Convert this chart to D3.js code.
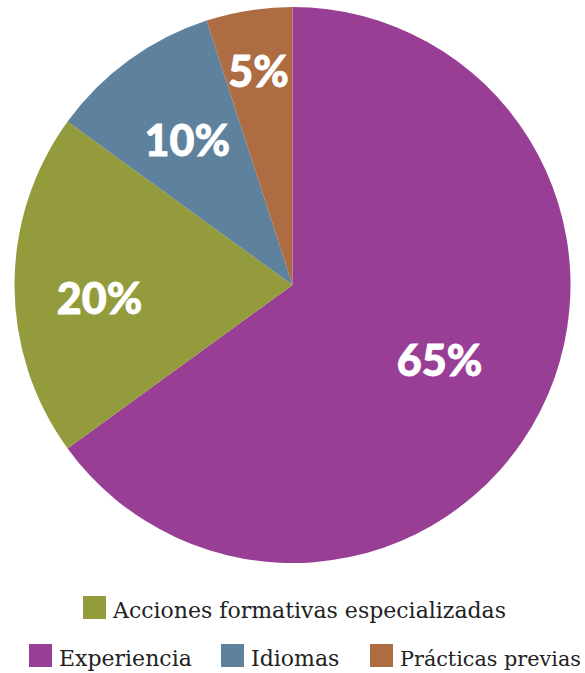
<!DOCTYPE html>
<html>
<head>
<meta charset="utf-8">
<script src="https://cdn.jsdelivr.net/npm/d3@7"></script>
<style>
  body { margin: 0; background: #fff; }
</style>
</head>
<body>
<svg id="chart" width="585" height="673"></svg>
<script>
// slice order, clockwise from 12 o'clock
var categories = ["Experiencia", "Acciones formativas especializadas", "Idiomas", "Prácticas previas"];
var values = [65, 20, 10, 5];
var colors = ["#983f95", "#949b3d", "#5e819e", "#ad6c42"];

// legend rows (index into categories)
var legendRows = [[1], [0, 2, 3]];

var svg = d3.select("#chart"),
    cx = 292.5,
    cy = 285,
    radius = 278;

var g = svg.append("g")
    .attr("transform", "translate(" + cx + "," + cy + ")");

var pie = d3.pie().sort(null).value(function(d) { return d; });
var arcs = pie(values);

var arc = d3.arc().innerRadius(0).outerRadius(radius);

g.selectAll(".slice")
  .data(arcs)
  .enter().append("path")
  .attr("class", "slice")
  .attr("d", arc)
  .style("fill", function(d, i) { return colors[i]; });

// labels sit at different distances from the centre in the original
var labelR = [165, 193, 179, 217];

g.selectAll(".lbl")
  .data(arcs)
  .enter().append("text")
  .attr("class", "lbl")
  .attr("transform", function(d, i) {
      var a = d3.arc().innerRadius(labelR[i]).outerRadius(labelR[i]);
      var c = a.centroid(d);
      if (i == 1) c[1] += 13;
      return "translate(" + c[0] + "," + c[1] + ")";
  })
  .attr("dy", "0.37em")
  .attr("text-anchor", "middle")
  .attr("font-family", "Lato, 'Open Sans', sans-serif")
  .attr("font-weight", 900)
  .attr("font-size", "43px")
  .style("fill", "#fff")
  .style("stroke", "#fff")
  .style("stroke-width", 0.8)
  .text(function(d) { return d.data + "%"; });

// legend
var legendFont = "'DejaVu Serif', serif";
var rowY = [596, 644];
var rowX = [[83], [29, 221, 370]];
var W = +svg.attr("width");

legendRows.forEach(function(row, r) {
    row.forEach(function(ci, k) {
        var x = rowX[r][k];
        svg.append("rect")
          .attr("x", x)
          .attr("y", rowY[r])
          .attr("width", 23)
          .attr("height", 23)
          .style("fill", colors[ci]);
        var t = svg.append("text")
          .attr("x", x + 30)
          .attr("y", rowY[r] + 22)
          .attr("font-family", legendFont)
          .attr("font-size", "22px")
          .style("fill", "#222")
          .text(categories[ci]);
        // shrink the last one so it stays on the page
        var room = W - 4 - (x + 30);
        var len = t.node().getComputedTextLength();
        if (len > room) {
            t.attr("font-size", (22 * room / len).toFixed(2) + "px");
        }
    });
});
</script>
</body>
</html>
